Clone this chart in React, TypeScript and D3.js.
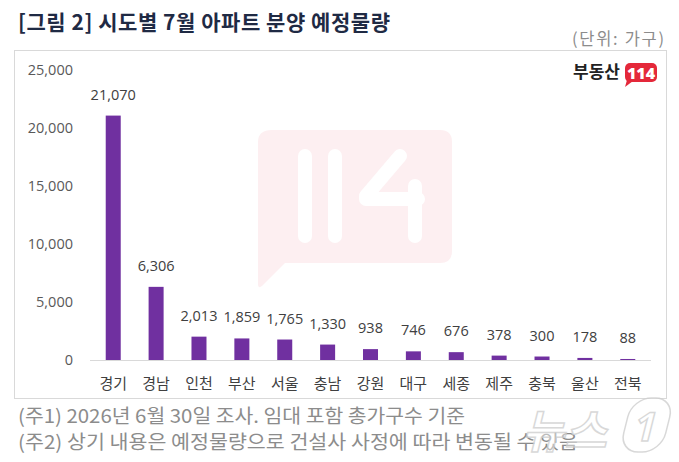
import React from "react";
import * as d3 from "d3";

const regions = ["경기", "경남", "인천", "부산", "서울", "충남", "강원", "대구", "세종", "제주", "충북", "울산", "전북"];
const units = [21070, 6306, 2013, 1859, 1765, 1330, 938, 746, 676, 378, 300, 178, 88];
const yTicks = [0, 5000, 10000, 15000, 20000, 25000];
const title = "[그림 2] 시도별 7월 아파트 분양 예정물량";
const unitNote = "(단위: 가구)";
const notes = ["(주1) 2026년 6월 30일 조사. 임대 포함 총가구수 기준", "(주2) 상기 내용은 예정물량으로 건설사 사정에 따라 변동될 수 있음"];
const noteWidths = [447, 560];

const W = 679;
const H = 462;
const KR = "'Noto Sans CJK KR', 'Noto Sans', sans-serif";
const NUM = "'Open Sans', 'Noto Sans', sans-serif";

export default function App() {
  const x = d3.scaleBand<string>().domain(regions).range([92, 649]).paddingInner(0.65).paddingOuter(0.32);
  const y = d3.scaleLinear().domain([0, 25000]).range([360, 70]);
  const fmt = d3.format(",");

  return (
    <svg width={W} height={H} style={{ position: "absolute", left: 0, top: 0, background: "#fff" }}>
      <rect x={0} y={0} width={W} height={H} fill="#fff" />
      <text x={18} y={30} fontFamily={KR} fontWeight={700} fontSize={21} fill="#1f2a44" textLength={372} lengthAdjust="spacing">{title}</text>
      <text x={572} y={45} fontFamily={KR} fontSize={16.5} fill="#8c8c8c" textLength={92} lengthAdjust="spacing">{unitNote}</text>

      {/* chart frame */}
      <rect x={14.5} y={50.5} width={652} height={348} fill="#fff" stroke="#d9d9d9" strokeWidth={1} />

      {/* faint 114 emblem behind the plot */}
      <g>
        <path d="M272,130 H440 Q452,130 452,142 V251 Q452,263 440,263 H285 L262,286 Q258,289 258,284 V142 Q258,130 272,130 Z" fill="#fdeff1" />
        <g stroke="#fff" strokeWidth={14} strokeLinecap="round" strokeLinejoin="round" fill="none">
          <line x1={305} y1={156} x2={305} y2={236} />
          <line x1={335} y1={156} x2={335} y2={236} />
          <polyline points="400,156 366,196 366,199 418,199" />
          <line x1={415} y1={186} x2={415} y2={236} />
        </g>
      </g>

      {/* brand mark */}
      <text x={620} y={78} textAnchor="end" fontFamily={KR} fontWeight={700} fontSize={17} fill="#222">부동산</text>
      <rect x={625} y={63} width={32} height={19} rx={5} fill="#e4283a" />
      <path d="M627,80 L625,87 L633,81 Z" fill="#e4283a" />
      <text x={641} y={79} textAnchor="middle" fontFamily={NUM} fontWeight={800} fontSize={16} fill="#fff">114</text>

      {/* y axis labels */}
      {yTicks.map((t) => (
        <text key={t} x={73} y={y(t) + 5} textAnchor="end" fontFamily={NUM} fontSize={14.5} fill="#595959">{fmt(t)}</text>
      ))}

      {/* bars */}
      {regions.map((r, i) => (
        <rect key={r} x={x(r)} y={y(units[i])} width={x.bandwidth()} height={y(0) - y(units[i])} fill="#7030a0" />
      ))}
      <line x1={90} x2={651} y1={360.5} y2={360.5} stroke="#d9d9d9" strokeWidth={1} />

      {/* value labels */}
      {regions.map((r, i) => (
        <text key={r} x={(x(r) as number) + x.bandwidth() / 2} y={y(units[i]) - 16} textAnchor="middle" fontFamily={NUM} fontSize={14.5} fill="#404040">{fmt(units[i])}</text>
      ))}

      {/* category labels */}
      {regions.map((r) => (
        <text key={r} x={(x(r) as number) + x.bandwidth() / 2} y={389} textAnchor="middle" fontFamily={KR} fontSize={15} fill="#404040">{r}</text>
      ))}

      {/* footnotes */}
      {notes.map((n, i) => (
        <text key={n} x={18} y={423 + i * 26} fontFamily={KR} fontSize={19} fill="#8c8c8c" textLength={noteWidths[i]} lengthAdjust="spacingAndGlyphs">{n}</text>
      ))}

      {/* news agency watermark */}
      <g transform="translate(522,448) skewX(-14)" opacity={0.8}>
        <text x={0} y={0} fontFamily={KR} fontWeight={700} fontSize={46} fill="#fff" fillOpacity={0.55} stroke="#cfcfcf" strokeWidth={1.5}>뉴스</text>
        <rect x={98} y={-50} width={42} height={54} rx={19} fill="#fff" fillOpacity={0.55} stroke="#cfcfcf" strokeWidth={1.5} />
        <text x={119} y={-7} textAnchor="middle" fontFamily={NUM} fontWeight={700} fontSize={40} fill="#fff" fillOpacity={0.55} stroke="#cfcfcf" strokeWidth={1.5}>1</text>
      </g>
    </svg>
  );
}
